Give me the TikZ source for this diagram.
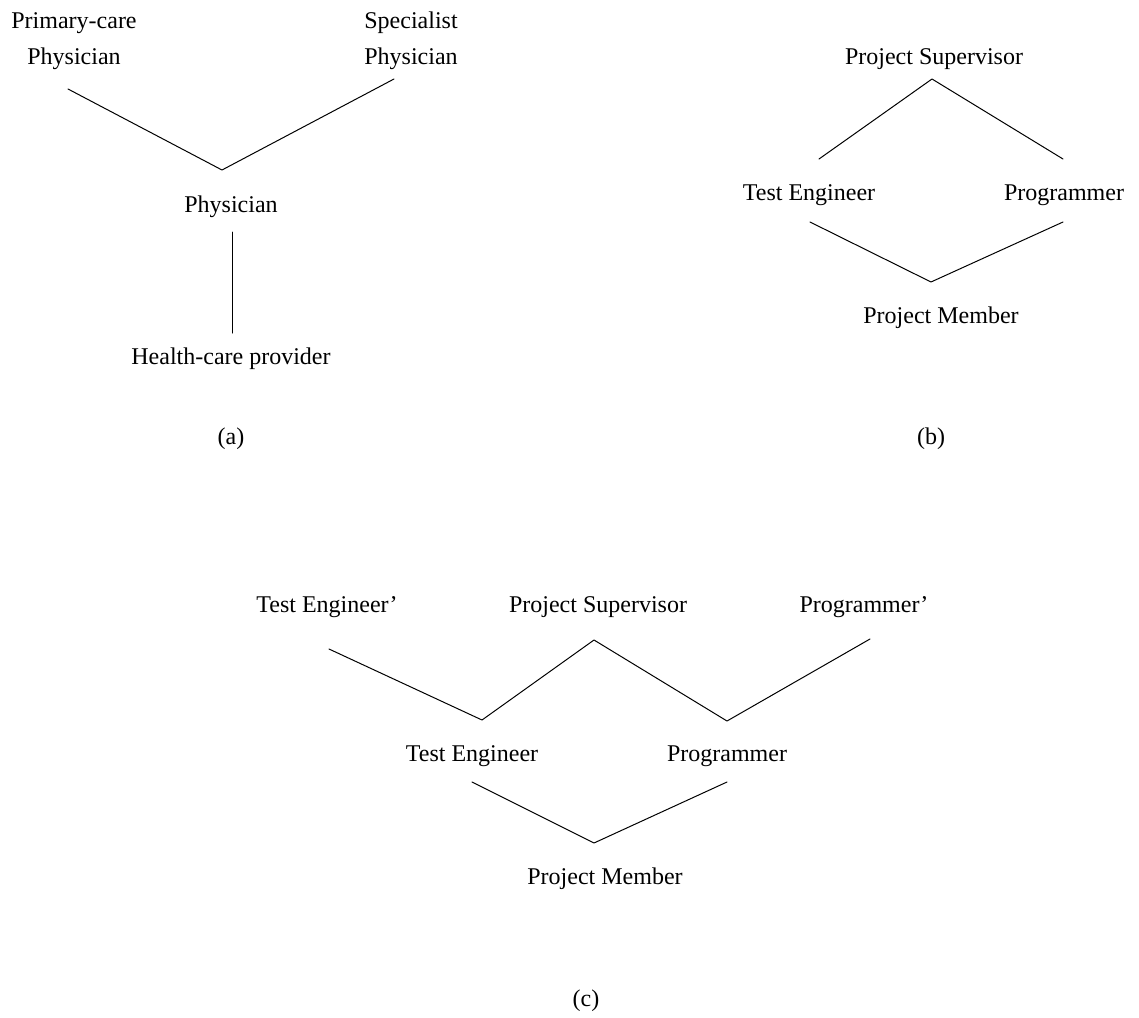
\documentclass[tikz,border=0pt]{standalone}
\usepackage{fontspec}
\setmainfont{Liberation Serif}
\begin{document}
\begin{tikzpicture}[x=0.5pt,y=-0.5pt,line join=round,line cap=round,
    lbl/.style={inner sep=0pt,anchor=base,font=\fontsize{12pt}{18pt}\selectfont},
    link/.style={line width=0.5pt}]
    \useasboundingbox (0,0) rectangle (1139,1017);
    % (a)
    \node[lbl,align=center] (pcp) at (74,64) {Primary-care\\Physician};
    \node[lbl,align=center] (spp) at (411,64) {Specialist\\Physician};
    \node[lbl] (phy) at (231,212) {Physician};
    \node[lbl] (hcp) at (231,364) {Health-care provider};
    \node[lbl] (capa) at (231,444) {(a)};
    \coordinate (pcp-end) at (68,89);
    \coordinate (spp-end) at (394,79);
    \coordinate (phy-up) at (222,170);
    \coordinate (phy-down) at (232,232);
    \coordinate (hcp-up) at (232,333);
    \draw[link] (pcp-end) -- (phy-up) -- (spp-end);
    \draw[link] (phy-down) -- (hcp-up);
    % (b)
    \node[lbl] (sup) at (934,64) {Project Supervisor};
    \node[lbl] (te) at (809,200) {Test Engineer};
    \node[lbl] (prg) at (1064,200) {Programmer};
    \node[lbl] (mem) at (941,323) {Project Member};
    \node[lbl] (capb) at (931,444) {(b)};
    \coordinate (sup-down) at (932,79);
    \coordinate (te-up) at (819,159);
    \coordinate (prg-up) at (1063,159);
    \coordinate (te-down) at (810,222);
    \coordinate (prg-down) at (1063,222);
    \coordinate (mem-up) at (931,282);
    \draw[link] (te-up) -- (sup-down) -- (prg-up);
    \draw[link] (te-down) -- (mem-up) -- (prg-down);
    % (c)
    \node[lbl] (te2) at (327,612) {Test Engineer'};
    \node[lbl] (sup2) at (598,612) {Project Supervisor};
    \node[lbl] (prg2) at (864,612) {Programmer'};
    \node[lbl] (te3) at (472,761) {Test Engineer};
    \node[lbl] (prg3) at (727,761) {Programmer};
    \node[lbl] (mem3) at (605,884) {Project Member};
    \node[lbl] (capc) at (586,1006) {(c)};
    \coordinate (te2-down) at (329,649);
    \coordinate (sup2-down) at (594,640);
    \coordinate (prg2-down) at (870,639);
    \coordinate (te3-up) at (482,720);
    \coordinate (prg3-up) at (727,721);
    \coordinate (te3-down) at (472,782);
    \coordinate (prg3-down) at (727,782);
    \coordinate (mem3-up) at (594,843);
    \draw[link] (te2-down) -- (te3-up) -- (sup2-down) -- (prg3-up) -- (prg2-down);
    \draw[link] (te3-down) -- (mem3-up) -- (prg3-down);
\end{tikzpicture}
\end{document}
